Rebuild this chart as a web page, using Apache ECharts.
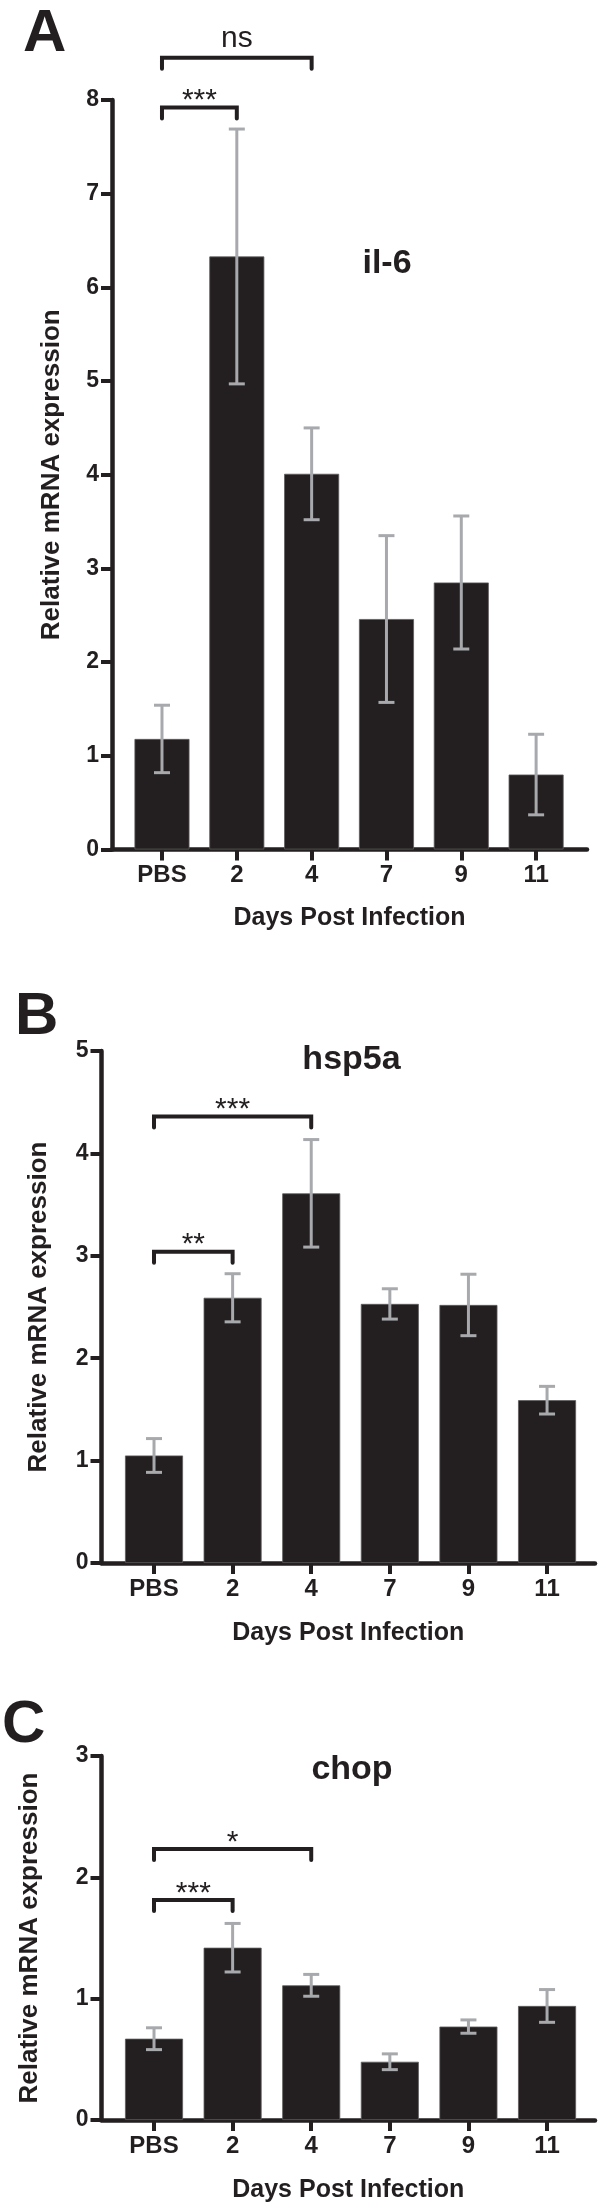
<!DOCTYPE html>
<html>
<head>
<meta charset="utf-8">
<script src="https://cdn.jsdelivr.net/npm/echarts@6/dist/echarts.min.js"></script>
<style>
html,body{margin:0;padding:0;background:#fff;}
#chart{width:600px;height:2212px;}
</style>
</head>
<body>
<div id="chart"></div>
<script>
// ---- data ----
const categories = ['PBS', '2', '4', '7', '9', '11'];
const xAxisTitle = 'Days Post Infection';
const yAxisTitle = 'Relative mRNA expression';

const il6Mean = [1.18, 6.33, 4.01, 2.46, 2.85, 0.80];
const il6Err  = [0.36, 1.36, 0.49, 0.89, 0.71, 0.43];
const il6Brackets = [[0, 1, 7.92], [0, 2, 8.45]];
const il6BracketLabels = ['***', 'ns'];

const hsp5aMean = [1.05, 2.59, 3.61, 2.53, 2.52, 1.59];
const hsp5aErr  = [0.165, 0.235, 0.525, 0.148, 0.30, 0.135];
const hsp5aBrackets = [[0, 1, 3.04], [0, 2, 4.36]];
const hsp5aBracketLabels = ['**', '***'];

const chopMean = [0.67, 1.42, 1.11, 0.48, 0.77, 0.94];
const chopErr  = [0.09, 0.20, 0.09, 0.065, 0.055, 0.135];
const chopBrackets = [[0, 1, 1.814], [0, 2, 2.234]];
const chopBracketLabels = ['***', '*'];

const yMaxes = [8, 5, 3];
const panelLetters = ['A', 'B', 'C'];
const geneNames = ['il-6', 'hsp5a', 'chop'];

// ---- styles ----
const FONT = '"Liberation Sans", Arial, Helvetica, sans-serif';
const INK = '#231f20';
const ERR = '#a7a9ac';
const tickIdx = categories.map((_, i) => i);

const panels = [
  {mean: il6Mean, err: il6Err, br: il6Brackets, brl: il6BracketLabels,
   grid: {left: 112, top: 100, width: 475, height: 749.5}, xmin: -0.668, xmax: 5.68, barW: 55, yGap: 47},
  {mean: hsp5aMean, err: hsp5aErr, br: hsp5aBrackets, brl: hsp5aBracketLabels,
   grid: {left: 101.5, top: 1051, width: 493.5, height: 512}, xmin: -0.668, xmax: 5.61, barW: 58, yGap: 50},
  {mean: chopMean, err: chopErr, br: chopBrackets, brl: chopBracketLabels,
   grid: {left: 101.5, top: 1756, width: 493.5, height: 364}, xmin: -0.668, xmax: 5.61, barW: 58, yGap: 59}
];

const grids = [], xAxes = [], yAxes = [], series = [];
panels.forEach((p, k) => {
  grids.push(p.grid);
  xAxes.push({
    type: 'value', gridIndex: k, min: p.xmin, max: p.xmax,
    splitLine: {show: false},
    axisLine: {show: true, onZero: false, lineStyle: {color: INK, width: 4.5}},
    axisTick: {show: true, customValues: tickIdx, length: 11, lineStyle: {color: INK, width: 4}},
    axisLabel: {customValues: tickIdx, formatter: v => categories[Math.round(v)],
      fontSize: 24, fontWeight: 'bold', color: INK, fontFamily: FONT, margin: 14},
    name: xAxisTitle, nameLocation: 'middle', nameGap: k === 0 ? 56 : 58,
    nameTextStyle: {fontSize: 25, fontWeight: 'bold', color: INK, fontFamily: FONT}
  });
  yAxes.push({
    type: 'value', gridIndex: k, min: 0, max: yMaxes[k], interval: 1,
    splitLine: {show: false},
    axisLine: {show: true, onZero: false, lineStyle: {color: INK, width: 4.5}},
    axisTick: {show: true, length: 11, lineStyle: {color: INK, width: 4}},
    axisLabel: {fontSize: 23, fontWeight: 'bold', color: INK, fontFamily: FONT, margin: 13},
    name: yAxisTitle, nameLocation: 'middle', nameRotate: 90, nameGap: p.yGap,
    nameTextStyle: {fontSize: 26, fontWeight: 'bold', color: INK, fontFamily: FONT}
  });
  series.push({
    type: 'bar', xAxisIndex: k, yAxisIndex: k, barWidth: p.barW,
    data: p.mean.map((v, i) => [i, v]),
    itemStyle: {color: INK, borderColor: '#5e5b5c', borderWidth: 0.8},
    silent: true, animation: false
  });
  series.push({
    type: 'custom', xAxisIndex: k, yAxisIndex: k, z: 5, animation: false, silent: true,
    data: p.mean.map((v, i) => [i, v - p.err[i], v + p.err[i]]),
    encode: {x: 0, y: [1, 2]},
    renderItem: (params, api) => {
      const lo = api.coord([api.value(0), api.value(1)]);
      const hi = api.coord([api.value(0), api.value(2)]);
      const hw = 8;
      const st = {stroke: ERR, lineWidth: 3, fill: null};
      return {type: 'group', children: [
        {type: 'line', shape: {x1: lo[0], y1: lo[1], x2: hi[0], y2: hi[1]}, style: st},
        {type: 'line', shape: {x1: hi[0] - hw, y1: hi[1], x2: hi[0] + hw, y2: hi[1]}, style: st},
        {type: 'line', shape: {x1: lo[0] - hw, y1: lo[1], x2: lo[0] + hw, y2: lo[1]}, style: st}
      ]};
    }
  });
  series.push({
    type: 'custom', xAxisIndex: k, yAxisIndex: k, z: 6, clip: false, animation: false, silent: true,
    data: p.br,
    encode: {x: [0, 1], y: 2},
    renderItem: (params, api) => {
      const a = api.coord([api.value(0), api.value(2)]);
      const b = api.coord([api.value(1), api.value(2)]);
      const leg = 11;
      const label = p.brl[params.dataIndex];
      const isStar = label.indexOf('*') >= 0;
      return {type: 'group', children: [
        {type: 'polyline', shape: {points: [[a[0], a[1] + leg], [a[0], a[1]], [b[0], b[1]], [b[0], b[1] + leg]]},
         style: {stroke: INK, lineWidth: 4, fill: null, lineJoin: 'miter', lineCap: 'round'}},
        {type: 'text', x: (a[0] + b[0]) / 2, y: a[1] + (isStar ? -6.5 : -19),
         style: {text: label, font: '30px ' + FONT, fill: INK, align: 'center', verticalAlign: 'middle'}}
      ]};
    }
  });
});

const letterPos = [[23, 34], [15, 1017], [2, 1725]];
const genePos = [[387, 263.5], [351.5, 1059.4], [352, 1770]];
const graphics = [];
panelLetters.forEach((t, i) => graphics.push({type: 'text', x: letterPos[i][0], y: letterPos[i][1],
  style: {text: t, font: 'bold 60px ' + FONT, fill: INK, align: 'left', verticalAlign: 'middle'}}));
geneNames.forEach((t, i) => graphics.push({type: 'text', x: genePos[i][0], y: genePos[i][1],
  style: {text: t, font: 'bold 34px ' + FONT, fill: INK, align: 'center', verticalAlign: 'middle'}}));

const chart = echarts.init(document.getElementById('chart'), null, {renderer: 'canvas'});
chart.setOption({
  backgroundColor: '#fff',
  animation: false,
  grid: grids, xAxis: xAxes, yAxis: yAxes, series: series,
  graphic: graphics
});
</script>
</body>
</html>
